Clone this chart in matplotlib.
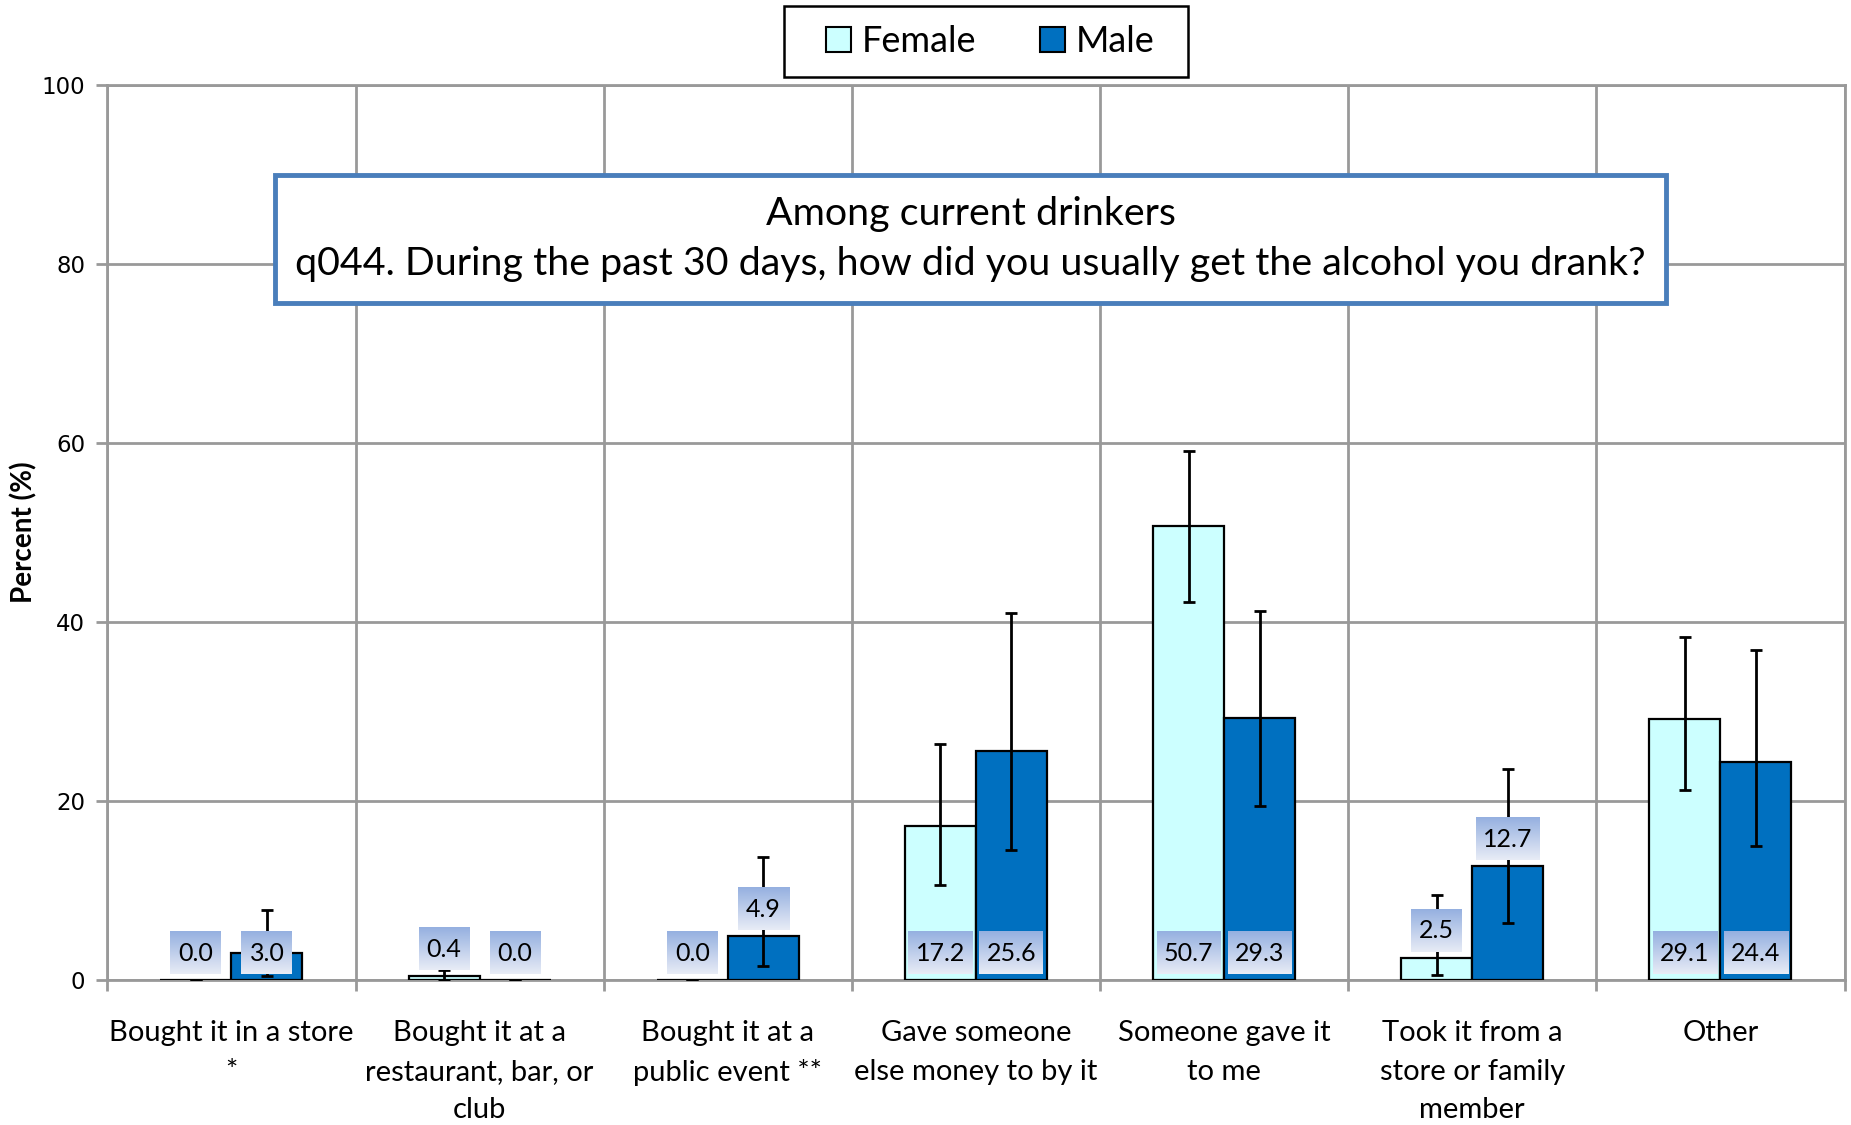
import numpy as np
import matplotlib.pyplot as plt
from matplotlib.patches import Rectangle, Patch

plt.rcParams['font.family'] = ['Lato', 'DejaVu Sans']

categories = ['Bought it in a store\n*', 'Bought it at a\nrestaurant, bar, or\nclub',
              'Bought it at a\npublic event **', 'Gave someone\nelse money to by it',
              'Someone gave it\nto me', 'Took it from a\nstore or family\nmember', 'Other']
female = [0.0, 0.4, 0.0, 17.2, 50.7, 2.5, 29.1]
female_lo = [0.0, 0.0, 0.0, 10.6, 42.2, 0.6, 21.2]
female_hi = [0.0, 1.1, 0.0, 26.4, 59.1, 9.5, 38.3]
male = [3.0, 0.0, 4.9, 25.6, 29.3, 12.7, 24.4]
male_lo = [0.4, 0.0, 1.6, 14.5, 19.4, 6.3, 15.0]
male_hi = [7.8, 0.0, 13.7, 41.0, 41.2, 23.6, 36.9]
# label sits above the bar (True) or at the bar base (False)
female_above = [False, True, False, False, False, True, False]
male_above = [False, False, True, False, False, True, False]

title_text = 'Among current drinkers\nq044. During the past 30 days, how did you usually get the alcohol you drank?'

fig = plt.figure(figsize=(18.51, 11.25), dpi=100)
ax = fig.add_axes([0.058, 0.129, 0.9385, 0.7955])

x = np.arange(len(categories))
w = 0.286
grid_c = '#999999'
px_per_cat = 0.9385 * 1851 / len(categories)

# ラベル用グラデーション
grad = np.linspace(0, 1, 64).reshape(-1, 1)
c_top = np.array([0x95, 0xb0, 0xe0]) / 255
c_bot = np.array([0xe8, 0xec, 0xf6]) / 255
grad_img = c_top[None, None, :] * (1 - grad[..., None]) + c_bot[None, None, :] * grad[..., None]


def draw_series(pos, vals, lo, hi, above, color):
    ax.bar(pos, vals, w, color=color, edgecolor='black', linewidth=1.6, zorder=3)
    vals = np.array(vals)
    err = [vals - np.array(lo), np.array(hi) - vals]
    ax.errorbar(pos, vals, yerr=err, fmt='none', ecolor='black', elinewidth=2,
                capsize=4.5, capthick=2, zorder=4)
    for xi, v, ab in zip(pos, vals, above):
        s = f'{v:.1f}'
        yc = v + 3.0 if ab else 3.0
        bw = (13 * len(s) + 12) / px_per_cat
        bh = 4.7
        ax.imshow(grad_img, extent=[xi - bw / 2, xi + bw / 2, yc - bh / 2, yc + bh / 2],
                  aspect='auto', zorder=5, interpolation='bilinear')
        ax.text(xi, yc, s, ha='center', va='center', fontsize=18, zorder=6)


draw_series(x - w / 2, female, female_lo, female_hi, female_above, '#ccffff')
draw_series(x + w / 2, male, male_lo, male_hi, male_above, '#0070c0')

ax.set_xlim(-0.5, len(categories) - 0.5)
ax.set_ylim(0, 100)
ax.set_yticks(np.arange(0, 101, 20))
ax.set_yticklabels([str(v) for v in range(0, 101, 20)], family='DejaVu Sans', fontsize=16.5)
ax.set_xticks(np.arange(-0.5, len(categories)), minor=False)
ax.set_xticklabels([])
ax.set_xticks(x, minor=True)
ax.set_xticklabels(categories, minor=True, fontsize=21, linespacing=1.6)
ax.tick_params(axis='x', which='minor', length=0, pad=29)
ax.tick_params(axis='x', which='major', length=8, width=2, color=grid_c)
ax.tick_params(axis='y', length=8, width=2, color=grid_c, pad=8)
ax.grid(True, which='major', color=grid_c, linewidth=2, zorder=0)
ax.set_axisbelow(True)
for s in ax.spines.values():
    s.set_color(grid_c)
    s.set_linewidth(2)
ax.set_ylabel('Percent (%)', fontsize=20, fontweight='bold')
ax.yaxis.set_label_coords(-0.04, 0.5)

# タイトルボックス
ax.text(2.978, 82.8, title_text, ha='center', va='center', fontsize=28.4, linespacing=1.5,
        zorder=7, bbox=dict(boxstyle='square,pad=0.52', facecolor='white',
                            edgecolor='#4a7ebb', linewidth=3.5))

# 凡例
handles = [Patch(facecolor='#ccffff', edgecolor='black', linewidth=1.5, label='Female'),
           Patch(facecolor='#0070c0', edgecolor='black', linewidth=1.5, label='Male')]
leg = fig.legend(handles=handles, loc='center', bbox_to_anchor=(0.535, 0.9627), ncol=2,
                 fontsize=26, frameon=False,
                 handlelength=0.7, handleheight=0.7, handletextpad=0.3, columnspacing=1.75,
                 borderpad=0.3, borderaxespad=0)
fig.patches.append(Rectangle((784 / 1851, 1 - 77 / 1125), 404 / 1851, 71 / 1125,
                             transform=fig.transFigure, facecolor='white',
                             edgecolor='black', linewidth=1.8, zorder=-1))

fig.savefig('out.png', dpi=100)
